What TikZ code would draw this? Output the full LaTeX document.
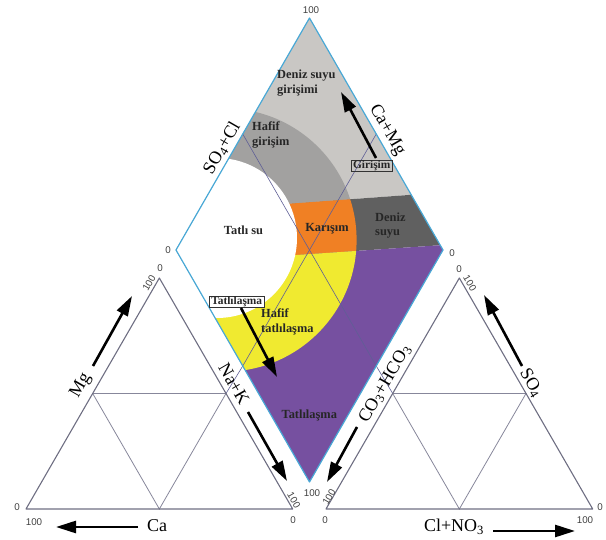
\documentclass[tikz,border=0pt]{standalone}
\usepackage{fontspec}
\setmainfont{Liberation Serif}
\newfontfamily\numfont{Liberation Sans}
\usetikzlibrary{arrows.meta}
\definecolor{lgray}{RGB}{201,199,196}
\definecolor{mgray}{RGB}{162,161,160}
\definecolor{dgray}{RGB}{96,96,96}
\definecolor{orng}{RGB}{240,128,36}
\definecolor{ylw}{RGB}{240,234,48}
\definecolor{purp}{RGB}{118,80,160}
\definecolor{edgeblue}{RGB}{72,168,214}
\definecolor{trigray}{RGB}{110,110,130}
\definecolor{gridc}{RGB}{95,95,150}
\definecolor{tgrid}{RGB}{135,135,155}
\begin{document}
\begin{tikzpicture}[x=1pt,y=-1pt,
  lbl/.style={font=\fontsize{12.4}{14.5}\selectfont\bfseries, text=black!85, align=left, inner sep=0pt},
  boxlbl/.style={draw=black!80, line width=0.6pt, inner xsep=2pt, inner ysep=0.4pt, font=\fontsize{11.4}{12}\selectfont\bfseries, text=black!85},
  axislbl/.style={font=\fontsize{18}{20}\selectfont, inner sep=0pt},
  num/.style={font=\numfont\fontsize{9.8}{10}\selectfont, text=black!75, inner sep=0pt},
  bigarrow/.style={line width=2.6pt, -{Triangle[length=20pt,width=12pt]}},
  diamedge/.style={draw=edgeblue, line width=1.2pt, line join=round},
  triedge/.style={draw=trigray, line width=1.1pt, line join=round},
  dgrid/.style={draw=gridc, line width=0.6pt},
  tgridl/.style={draw=tgrid, line width=0.8pt}]
\useasboundingbox (0,0) rectangle (606,540);
% diamond vertices
\coordinate (T) at (309.5,18);
\coordinate (L) at (176,250);
\coordinate (R) at (443,250);
\coordinate (B) at (309.5,482);
\coordinate (TL) at (242.75,134);
\coordinate (TR) at (376.25,134);
\coordinate (BL) at (242.75,366);
\coordinate (BR) at (376.25,366);
% left triangle
\coordinate (A1) at (26,509);
\coordinate (B1) at (292.7,509);
\coordinate (C1) at (159.35,278);
\coordinate (ML1) at (92.7,393.5);
\coordinate (MR1) at (226,393.5);
\coordinate (MB1) at (159.35,509);
% right triangle
\coordinate (A2) at (326,509);
\coordinate (B2) at (592.7,509);
\coordinate (C2) at (459.35,278);
\coordinate (ML2) at (392.7,393.5);
\coordinate (MR2) at (526,393.5);
\coordinate (MB2) at (459.35,509);

% coloured zones
\begin{scope}
\clip (T) -- (R) -- (B) -- (L) -- cycle;
\fill[lgray] (150,0) -- (470,0) -- (470,190.5) -- (150,213.9) -- cycle;
\fill[dgray] (150,213.9) -- (470,190.5) -- (470,243.2) -- (150,265) -- cycle;
\fill[purp] (150,265) -- (470,243.2) -- (470,500) -- (150,500) -- cycle;
\begin{scope}
\clip (225,240) circle (131.6);
\fill[mgray] (150,0) -- (470,0) -- (470,190.5) -- (150,213.9) -- cycle;
\fill[orng] (150,213.9) -- (470,190.5) -- (470,243.2) -- (150,265) -- cycle;
\fill[ylw] (150,265) -- (470,243.2) -- (470,500) -- (150,500) -- cycle;
\end{scope}
\fill[white] (217,238) circle (80);
\end{scope}

% grid lines
\draw[dgrid] (TL) -- (BR) -- (ML2);
\draw[dgrid] (TR) -- (BL) -- (MR1);
\draw[diamedge] (T) -- (R) -- (B) -- (L) -- cycle;

\draw[tgridl] (ML1) -- (MR1) -- (MB1) -- cycle;
\draw[tgridl] (ML2) -- (MR2) -- (MB2) -- cycle;
\draw[triedge] (A1) -- (B1) -- (C1) -- cycle;
\draw[triedge] (A2) -- (B2) -- (C2) -- cycle;

% zone labels
\node[lbl, anchor=west] (dsg) at (277,83) {Deniz suyu\\girişimi};
\node[lbl, anchor=west] (hg) at (252,135) {Hafif\\girişim};
\node[lbl] (ts) at (243.5,230) {Tatlı su};
\node[lbl] (kar) at (327,229) {Karışım};
\node[lbl, anchor=west] (ds) at (375,225.5) {Deniz\\suyu};
\node[lbl, anchor=west] (ht) at (261,322) {Hafif\\tatlılaşma};
\node[lbl] (tat) at (309.3,415) {Tatlılaşma};
\node[boxlbl] (gbox) at (371.7,165.7) {Girişim};
\node[boxlbl, fill=white] (tbox) at (236.7,302) {Tatlılaşma};

% axis labels
\node[axislbl, rotate=60] (so4cl) at (222,148) {SO\textsubscript{4}+Cl};
\node[axislbl, rotate=-60] (camg) at (387,130) {Ca+Mg};
\node[axislbl, rotate=-60] (nak) at (234,384) {Na+K};
\node[axislbl, rotate=60] (cohco) at (385,384) {CO\textsubscript{3}+HCO\textsubscript{3}};
\node[axislbl, rotate=60] (mg) at (81,386) {Mg};
\node[axislbl, rotate=-60] (so4) at (531,383) {SO\textsubscript{4}};
\node[axislbl] (ca) at (157,526) {Ca};
\node[axislbl] (clno) at (454,527) {Cl+NO\textsubscript{3}};

% scale numbers
\node[num] (n1) at (311,10) {100};
\node[num] (n2) at (168,250) {0};
\node[num] (n3) at (452,253) {0};
\node[num] (n4) at (312,493) {100};
\node[num] (n5) at (160,268) {0};
\node[num, rotate=60] (n6) at (149,283) {100};
\node[num] (n7) at (17,507) {0};
\node[num] (n8) at (34,522) {100};
\node[num] (n9) at (293,520) {0};
\node[num, rotate=-60] (n10) at (294,500) {100};
\node[num] (n11) at (459,269) {0};
\node[num, rotate=-60] (n12) at (470,283) {100};
\node[num] (n13) at (600,507) {0};
\node[num] (n14) at (585,520) {100};
\node[num] (n15) at (325,520) {0};
\node[num, rotate=60] (n16) at (329,497) {100};

% arrows
\coordinate (girT) at (376,158);
\coordinate (girH) at (341,92);
\coordinate (tatT) at (241,308);
\coordinate (tatH) at (277,377);
\coordinate (mgT) at (93,366);
\coordinate (mgH) at (132,296);
\coordinate (nakT) at (248,412);
\coordinate (nakH) at (287,481);
\coordinate (caT) at (138,527);
\coordinate (caH) at (56,527);
\coordinate (coT) at (357,427);
\coordinate (coH) at (327,482);
\coordinate (soT) at (522,366);
\coordinate (soH) at (484,295);
\coordinate (clT) at (493,531);
\coordinate (clH) at (575,531);
\draw[bigarrow] (girT) -- (girH);
\draw[bigarrow] (tatT) -- (tatH);
\draw[bigarrow] (mgT) -- (mgH);
\draw[bigarrow] (nakT) -- (nakH);
\draw[bigarrow] (caT) -- (caH);
\draw[bigarrow] (coT) -- (coH);
\draw[bigarrow] (soT) -- (soH);
\draw[bigarrow] (clT) -- (clH);
\end{tikzpicture}
\end{document}
